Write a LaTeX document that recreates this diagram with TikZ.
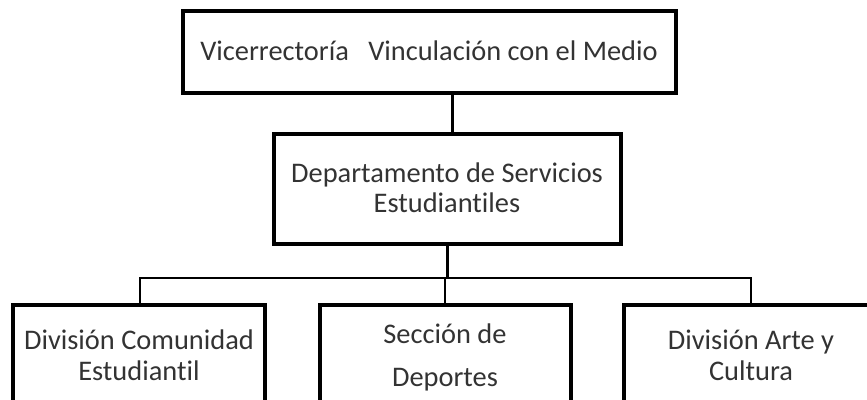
\documentclass[tikz,border=0pt]{standalone}
\usepackage{fontspec}
\setmainfont{Carlito}[Ligatures={NoCommon}]
\begin{document}
\begin{tikzpicture}[x=1pt,y=-1pt,
  box/.style={draw=black, line width=4pt, rectangle, inner sep=0pt, outer sep=0pt},
  lbl/.style={anchor=base, inner sep=0pt, font=\fontsize{28.4}{30.5}\selectfont, text=black!80},
  conn/.style={draw=black, line width=3pt},
  hconn/.style={draw=black, line width=2.5pt}]
\useasboundingbox (0,0) rectangle (867,399);
\clip (0,0) rectangle (867,399);
% coordinates for connector positions
\coordinate (c1) at (452,0);
\coordinate (c2) at (447.5,0);
\coordinate (j) at (447.5,278);
\coordinate (lb) at (140,278);
\coordinate (mbr) at (445,278);
\coordinate (rb) at (751,278);
% boxes (as empty shape nodes)
\node[box, minimum width=493pt, minimum height=82.5pt] (top) at (429.5,51.75) {};
\node[box, minimum width=347.5pt, minimum height=110pt] (mid) at (447.25,189) {};
\node[box, minimum width=252pt, minimum height=145pt] (left) at (139,377.5) {};
\node[box, minimum width=251.5pt, minimum height=145pt] (center) at (445.25,377.5) {};
\node[box, minimum width=276pt, minimum height=145pt] (right) at (762,377.5) {};
% connectors
\draw[conn] (top.south -| c1) -- (mid.north -| c1);
\draw[conn] (mid.south -| c2) -- (j);
\draw[hconn] (left.north -| lb) -- (lb) -- (rb) -- (right.north -| rb);
\draw[hconn] (mbr) -- (center.north -| mbr);
% texts
\node[lbl] (t1) at (429,60) {Vicerrectoría\hspace{13pt} Vinculación con el Medio};
\node[lbl] (t2a) at (447,182) {Departamento de Servicios};
\node[lbl] (t2b) at (447,212) {Estudiantiles};
\node[lbl] (t3a) at (139,349) {División Comunidad};
\node[lbl] (t3b) at (139,380) {Estudiantil};
\node[lbl] (t4a) at (445,343) {Sección de};
\node[lbl] (t4b) at (445,386) {Deportes};
\node[lbl] (t5a) at (751,349) {División Arte y};
\node[lbl] (t5b) at (751,380) {Cultura};
\end{tikzpicture}
\end{document}
